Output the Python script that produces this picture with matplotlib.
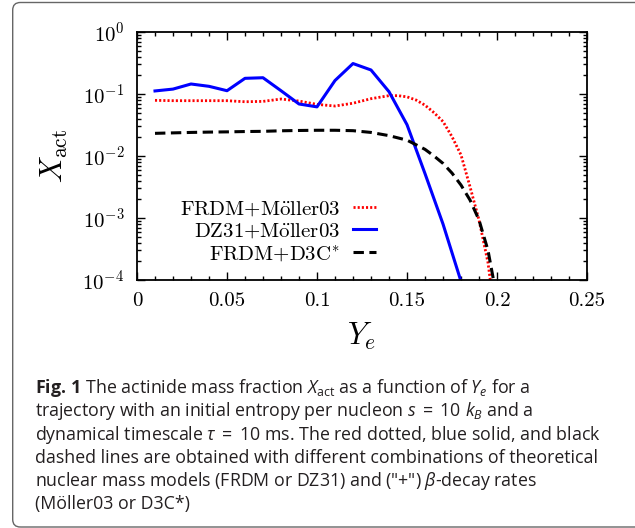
import matplotlib
matplotlib.use('Agg')
import matplotlib.pyplot as plt
from matplotlib.patches import FancyBboxPatch
from matplotlib.ticker import MultipleLocator, LogLocator, NullFormatter

# fonts: computer modern for the plot, sans for the caption
plt.rcParams['font.family'] = 'serif'
plt.rcParams['font.serif'] = ['cmr10']
plt.rcParams['mathtext.fontset'] = 'cm'
plt.rcParams['axes.formatter.use_mathtext'] = True
plt.rcParams['mathtext.rm'] = 'Open Sans'
plt.rcParams['mathtext.it'] = 'Open Sans:italic'
plt.rcParams['mathtext.bf'] = 'Open Sans:bold'

# data
ye_frdm = [0.01, 0.02, 0.03, 0.04, 0.05, 0.06, 0.07, 0.08, 0.09, 0.10, 0.11, 0.12,
           0.13, 0.14, 0.145, 0.15, 0.155, 0.16, 0.165, 0.17, 0.175, 0.18, 0.185,
           0.19, 0.195, 0.20]
x_frdm_moller = [0.079, 0.078, 0.078, 0.078, 0.078, 0.075, 0.076, 0.083, 0.077, 0.068,
                 0.064, 0.071, 0.084, 0.094, 0.094, 0.090, 0.080, 0.066, 0.050, 0.036,
                 0.0205, 0.0104, 0.0032, 0.00093, 0.00019, 0.000015]

ye_dz31 = [0.01, 0.02, 0.03, 0.04, 0.05, 0.06, 0.07, 0.08, 0.09, 0.10, 0.11, 0.12,
           0.13, 0.14, 0.15, 0.16, 0.17, 0.18, 0.19]
x_dz31_moller = [0.112, 0.120, 0.145, 0.133, 0.113, 0.179, 0.183, 0.113, 0.069, 0.062,
                 0.165, 0.31, 0.244, 0.109, 0.032, 0.0052, 0.0008, 0.000095, 0.000008]

ye_d3c = [0.01, 0.02, 0.03, 0.04, 0.05, 0.06, 0.07, 0.08, 0.09, 0.10, 0.11, 0.12,
          0.13, 0.14, 0.15, 0.155, 0.16, 0.165, 0.17, 0.175, 0.18, 0.185, 0.19,
          0.195, 0.20]
x_frdm_d3c = [0.0232, 0.0236, 0.024, 0.0243, 0.0245, 0.0248, 0.025, 0.0255, 0.0258,
              0.026, 0.026, 0.0256, 0.024, 0.0213, 0.018, 0.0152, 0.0128, 0.010,
              0.0076, 0.0053, 0.0034, 0.00195, 0.00093, 0.0003, 0.00005]

labels = [r'$\mathrm{FRDM{+}M\ddot{o}ller03}$',
          r'$\mathrm{DZ31{+}M\ddot{o}ller03}$',
          r'$\mathrm{FRDM{+}D3C^{*}}$']

caption = [r'$\mathbf{Fig.\,1}$ The actinide mass fraction $X_{\mathrm{act}}$ as a function of $Y_e$ for a',
           r'trajectory with an initial entropy per nucleon $s\;=\;10\ k_B$ and a',
           r'dynamical timescale $\tau\;=\;10$ ms. The red dotted, blue solid, and black',
           'dashed lines are obtained with different combinations of theoretical',
           r'nuclear mass models (FRDM or DZ31) and ("+") $\beta$-decay rates',
           '(Möller03 or D3C*)']

W, H = 635.0, 528.0
fig = plt.figure(figsize=(W / 100, H / 100), dpi=100)

# rounded frame around figure + caption
box = FancyBboxPatch((12.7 / W, 1 - 527 / H), (645 - 12.7) / W, (526 - 1.5) / H,
                     boxstyle='round,pad=0,rounding_size=0.012',
                     transform=fig.transFigure, fc='none', ec='#666666', lw=1.0,
                     mutation_aspect=W / H)
fig.patches.append(box)

ax = fig.add_axes([137 / W, 1 - 280 / H, 450 / W, 248 / H])
ax.plot(ye_frdm, x_frdm_moller, color='red', ls=(0, (0.75, 0.75)), lw=2.0, label=labels[0])
ax.plot(ye_dz31, x_dz31_moller, color='blue', ls='-', lw=2.2, label=labels[1])
ax.plot(ye_d3c, x_frdm_d3c, color='black', ls=(0, (3.4, 1.8)), lw=2.2, label=labels[2])

ax.set_yscale('log')
ax.set_xlim(0, 0.25)
ax.set_ylim(1e-4, 1)
ax.xaxis.set_major_locator(MultipleLocator(0.05))
ax.xaxis.set_minor_locator(MultipleLocator(0.01))
ax.yaxis.set_major_locator(LogLocator(base=10, numticks=10))
ax.yaxis.set_minor_locator(LogLocator(base=10, subs=range(2, 10), numticks=10))
ax.yaxis.set_minor_formatter(NullFormatter())
ax.set_xticks([0, 0.05, 0.1, 0.15, 0.2, 0.25])
ax.set_xticklabels(['0', '0.05', '0.1', '0.15', '0.2', '0.25'])

ax.tick_params(which='both', direction='in', top=True, right=True, width=1.0, labelsize=15)
ax.tick_params(which='major', length=6, pad=9)
ax.tick_params(which='minor', length=3)
for s in ax.spines.values():
    s.set_linewidth(1.3)

ax.set_xlabel(r'$Y_e$', fontsize=22)
ax.set_ylabel(r'$X_{\rm act}$', fontsize=22)
ax.xaxis.set_label_coords(0.5, -0.165)
ax.yaxis.set_label_coords(-0.15, 0.5)

ax.legend(loc='center right', bbox_to_anchor=(0.53, 0.196), frameon=False,
          markerfirst=False, fontsize=15, handlelength=1.1, handletextpad=0.6,
          labelspacing=0.14, borderpad=0, borderaxespad=0)

# caption lines
y0 = 393
for i, line in enumerate(caption):
    fig.text(35 / W, 1 - (y0 + 23.3 * i) / H, line, family='Open Sans', fontsize=12.8,
             va='baseline', ha='left', color='#231f20', math_fontfamily='custom')

fig.savefig('out.png', dpi=100)
